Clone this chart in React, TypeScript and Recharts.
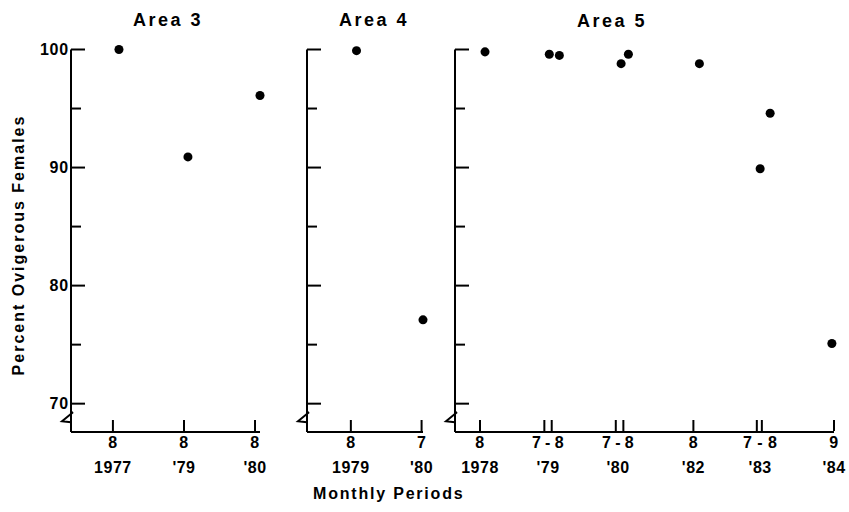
import React from 'react';
import { ScatterChart, Scatter, XAxis, YAxis } from 'recharts';

const FONT = '"Liberation Sans", Arial, Helvetica, sans-serif';
const INK = '#000';

// Shared percent scale (broken below 70)
const yTicks = [68.6, 70, 75, 80, 85, 90, 95, 100];
const yMajor = [70, 80, 90, 100];
const yBreak = 68.6;
const yMin = 67.6;
const yMax = 100;

// Area 3 — sampling periods on an index scale (0 = first period)
const area3Periods = [0.085, 1.056, 2.07];
const area3Percent = [100, 90.9, 96.1];
const area3TickMarks = [0, 1, 2];
const area3LabelPos = [0, 1, 2];
const area3Months = ['8', '8', '8'];
const area3Years = ['1977', "'79", "'80"];
const area3AxisStart = -0.59;

// Area 4
const area4Periods = [0.08, 1.02];
const area4Percent = [99.9, 77.1];
const area4TickMarks = [0, 1];
const area4LabelPos = [0, 1];
const area4Months = ['8', '7'];
const area4Years = ['1979', "'80"];
const area4AxisStart = -0.62;

// Area 5 — paired marks where a period spans July–August
const area5Periods = [0.071, 0.979, 1.121, 1.993, 2.096, 3.099, 3.957, 4.098, 4.97];
const area5Percent = [99.8, 99.6, 99.5, 98.8, 99.6, 98.8, 89.9, 94.6, 75.1];
const area5TickMarks = [0, 0.909, 1.013, 1.918, 2.025, 3.014, 3.91, 3.981, 5];
const area5LabelPos = [0, 0.961, 1.95, 3.014, 3.957, 5];
const area5Months = ['8', '7\u2009-\u20098', '7\u2009-\u20098', '8', '7 - 8', '9'];
const area5Years = ['1978', "'79", "'80", "'82", "'83", "'84"];
const area5AxisStart = -0.353;

const textStyle = {
  fontFamily: FONT,
  fontWeight: 700,
  fill: INK,
};

const near = (a: number, b: number) => Math.abs(a - b) < 1e-6;

// Inward ticks on the vertical axis; the lowest tick is drawn as the axis-break mark
const makeYTick = (showLabel: boolean) => (props: any) => {
  const { x, y, payload } = props;
  const v = payload.value;
  if (near(v, yBreak)) {
    return (
      <path
        d={`M${x},${y - 7} L${x + 2},${y - 8} L${x - 9},${y + 1} L${x},${y + 2}`}
        fill="none"
        stroke={INK}
        strokeWidth={2}
      />
    );
  }
  const major = yMajor.includes(v);
  const len = major ? 14 : 10;
  return (
    <g>
      <line x1={x} x2={x + len} y1={y} y2={y} stroke={INK} strokeWidth={2} />
      {showLabel && major && (
        <text x={x - 2} y={y} dy="0.36em" textAnchor="end" fontSize={16} letterSpacing={0.8} {...textStyle}>
          {v}
        </text>
      )}
    </g>
  );
};

// Each x tick may carry an upward mark on the axis, a two-line period label, or both
const makeXTick = (marks: number[], positions: number[], months: string[], years: string[]) => (props: any) => {
  const { x, y, payload } = props;
  const v = payload.value;
  const hasMark = marks.some((m) => near(m, v));
  const i = positions.findIndex((p) => near(p, v));
  return (
    <g>
      {hasMark && <line x1={x} x2={x} y1={y - 1} y2={y - 12} stroke={INK} strokeWidth={2} />}
      {i >= 0 && (
        <text textAnchor="middle" fontSize={16} letterSpacing={0.5} {...textStyle}>
          <tspan x={x} y={y + 16}>{months[i]}</tspan>
          <tspan x={x} y={y + 41}>{years[i]}</tspan>
        </text>
      )}
    </g>
  );
};

type PanelProps = {
  left: number;
  width: number;
  yAxisWidth: number;
  marginRight: number;
  axisStart: number;
  periods: number[];
  percents: number[];
  tickMarks: number[];
  labelPos: number[];
  months: string[];
  years: string[];
  showYLabels: boolean;
};

function Panel(p: PanelProps) {
  const data = p.periods.map((period, i) => ({ period, percent: p.percents[i] }));
  const lastTick = p.tickMarks[p.tickMarks.length - 1];
  // horizontal axis ends at the last period mark or the last point, whichever is further
  const axisEnd = Math.max(lastTick, ...p.periods);
  const allTicks = [...p.tickMarks];
  p.labelPos.forEach((l) => {
    if (!allTicks.some((t) => near(t, l))) allTicks.push(l);
  });
  allTicks.sort((a, b) => a - b);
  return (
    <ScatterChart
      width={p.width}
      height={512}
      margin={{ top: 49.5, right: p.marginRight, bottom: 0, left: 0 }}
      style={{ position: 'absolute', left: p.left, top: 0 }}
    >
      <XAxis
        type="number"
        dataKey="period"
        domain={[p.axisStart, axisEnd]}
        ticks={allTicks}
        interval={0}
        height={80}
        axisLine={{ stroke: INK, strokeWidth: 2 }}
        tickLine={false}
        tickSize={0}
        tickMargin={0}
        tick={makeXTick(p.tickMarks, p.labelPos, p.months, p.years)}
      />
      <YAxis
        type="number"
        dataKey="percent"
        domain={[yMin, yMax]}
        ticks={yTicks}
        interval={0}
        width={p.yAxisWidth}
        axisLine={{ stroke: INK, strokeWidth: 2 }}
        tickLine={false}
        tickSize={0}
        tickMargin={0}
        tick={makeYTick(p.showYLabels)}
      />
      <Scatter data={data} fill={INK} isAnimationActive={false} />
    </ScatterChart>
  );
}

const titleStyle: React.CSSProperties = {
  position: 'absolute',
  fontFamily: FONT,
  fontWeight: 700,
  color: INK,
  whiteSpace: 'nowrap',
  lineHeight: 1,
};

export default function App() {
  return (
    <div
      style={{
        position: 'absolute',
        left: 0,
        top: 0,
        width: 849,
        height: 512,
        background: '#fff',
      }}
    >
      <div style={{ ...titleStyle, fontSize: 18, letterSpacing: 2.5, left: 133, top: 11 }}>Area 3</div>
      <div style={{ ...titleStyle, fontSize: 18, letterSpacing: 2.5, left: 339, top: 11 }}>Area 4</div>
      <div style={{ ...titleStyle, fontSize: 18, letterSpacing: 2.5, left: 577, top: 12 }}>Area 5</div>
      <div
        style={{
          ...titleStyle,
          fontSize: 16,
          letterSpacing: 2,
          left: 19,
          top: 245,
          transform: 'translate(-50%, -50%) rotate(-90deg)',
        }}
      >
        Percent Ovigerous Females
      </div>
      <div style={{ ...titleStyle, fontSize: 16, letterSpacing: 1.8, left: 313, top: 486 }}>Monthly Periods</div>
      <Panel
        left={0}
        width={275}
        yAxisWidth={71}
        marginRight={15}
        axisStart={area3AxisStart}
        periods={area3Periods}
        percents={area3Percent}
        tickMarks={area3TickMarks}
        labelPos={area3LabelPos}
        months={area3Months}
        years={area3Years}
        showYLabels
      />
      <Panel
        left={280}
        width={160}
        yAxisWidth={27}
        marginRight={17}
        axisStart={area4AxisStart}
        periods={area4Periods}
        percents={area4Percent}
        tickMarks={area4TickMarks}
        labelPos={area4LabelPos}
        months={area4Months}
        years={area4Years}
        showYLabels={false}
      />
      <Panel
        left={440}
        width={409}
        yAxisWidth={15}
        marginRight={15}
        axisStart={area5AxisStart}
        periods={area5Periods}
        percents={area5Percent}
        tickMarks={area5TickMarks}
        labelPos={area5LabelPos}
        months={area5Months}
        years={area5Years}
        showYLabels={false}
      />
    </div>
  );
}
